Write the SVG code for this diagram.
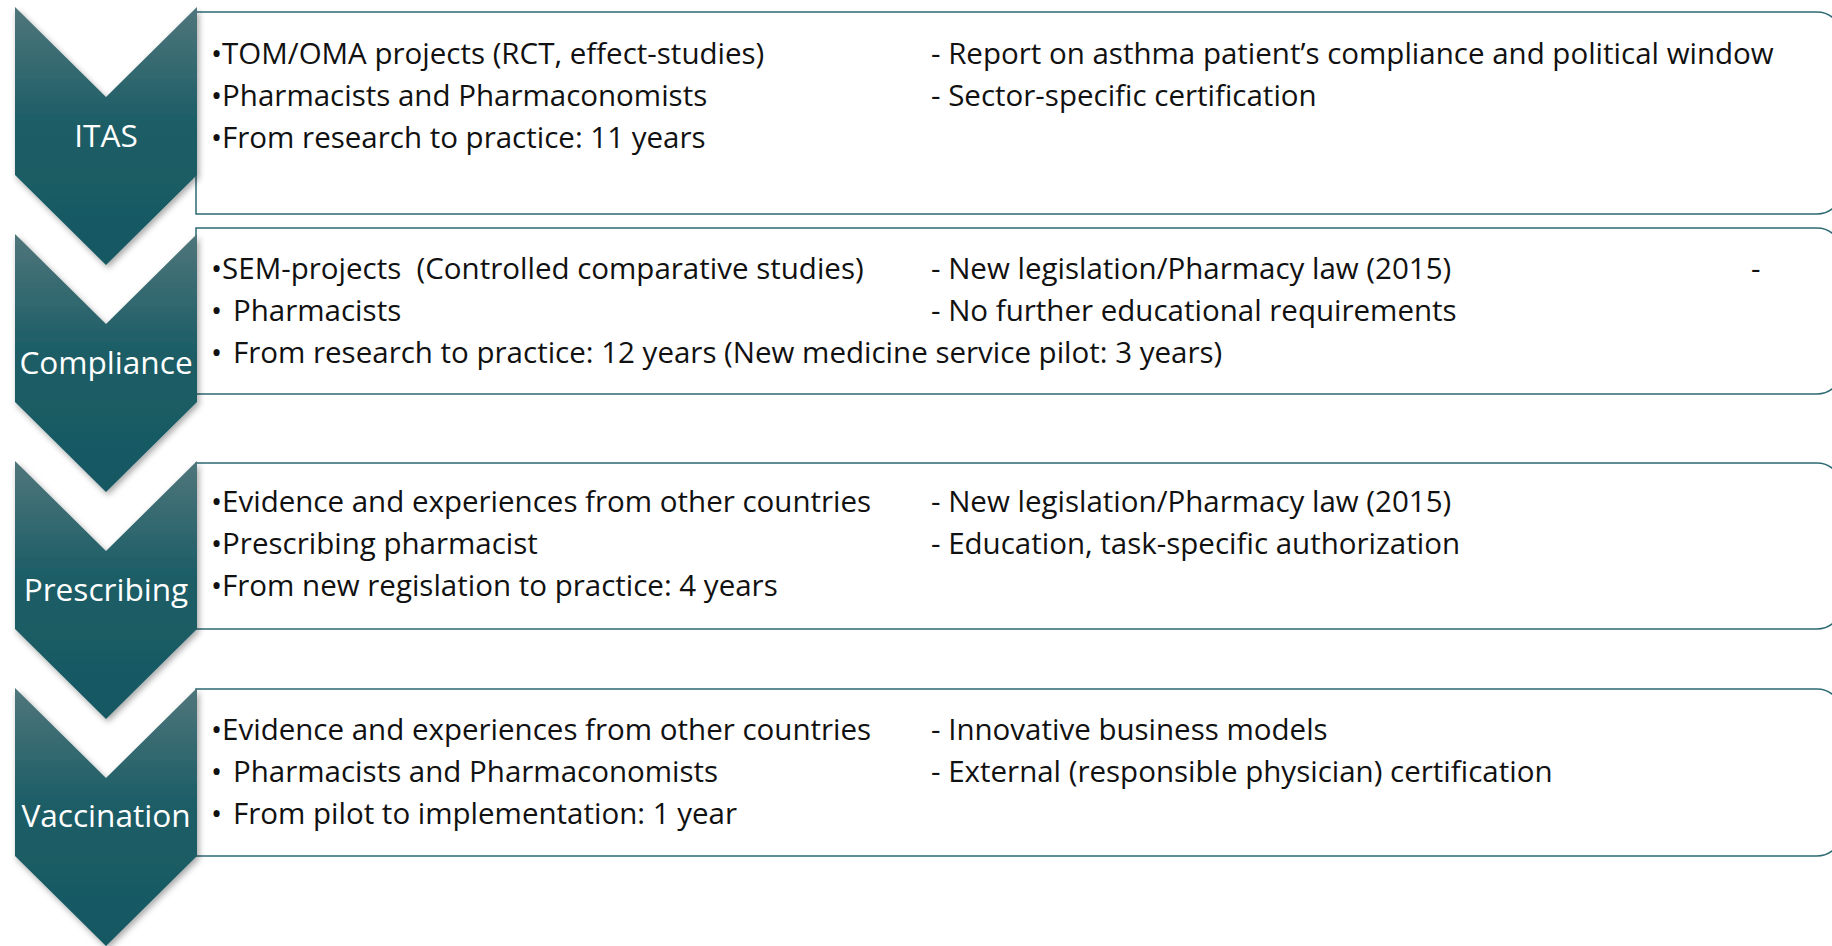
<svg xmlns="http://www.w3.org/2000/svg" width="1832" height="946" viewBox="0 0 1832 946">
<defs>
<linearGradient id="chevGrad" x1="0" y1="0" x2="0" y2="1">
<stop offset="0" stop-color="#4f767b"/>
<stop offset="0.45" stop-color="#1c5d66"/>
<stop offset="1" stop-color="#175862"/>
</linearGradient>
<filter id="shadow" x="-20%" y="-10%" width="140%" height="125%">
<feDropShadow dx="2" dy="3" stdDeviation="3" flood-color="#000" flood-opacity="0.35"/>
</filter>
<style>
.box{fill:#fff;stroke:#2e6a73;stroke-width:1.5}
.chev{fill:url(#chevGrad);filter:url(#shadow)}
.lbl{font-family:"Open Sans","Liberation Sans",sans-serif;font-size:31.6px;fill:#fff;text-anchor:middle}
.t{font-family:"Open Sans","Liberation Sans",sans-serif;font-size:29.5px;fill:#111}
</style>
</defs>
<rect width="1832" height="946" fill="#fff"/>
<g id="connectors"/>
<g id="itas">
<path class="box" d="M196,12 H1817 A25,25 0 0 1 1842,37 V189 A25,25 0 0 1 1817,214 H196 Z"/>
<polygon class="chev" points="15,7 106,97 197,7 197,175 106,265 15,175"/>
<text class="lbl" x="106" y="147">ITAS</text>
<text class="t" x="211" y="64">•TOM/OMA projects (RCT, effect-studies)</text>
<text class="t" x="211" y="106">•Pharmacists and Pharmaconomists</text>
<text class="t" x="211" y="148">•From research to practice: 11 years</text>
<text class="t" x="931" y="64">- Report on asthma patient’s compliance and political window</text>
<text class="t" x="931" y="106">- Sector-specific certification</text>
</g>
<g id="compliance">
<path class="box" d="M196,228 H1817 A25,25 0 0 1 1842,253 V369 A25,25 0 0 1 1817,394 H196 Z"/>
<polygon class="chev" points="15,234 106,324 197,234 197,402 106,492 15,402"/>
<text class="lbl" x="106" y="374">Compliance</text>
<text class="t" x="211" y="279">•SEM-projects &#160;(Controlled comparative studies)</text>
<text class="t" x="211" y="321">• <tspan x="233">Pharmacists</tspan></text>
<text class="t" x="211" y="363">• <tspan x="233">From research to practice: 12 years (New medicine service pilot: 3 years)</tspan></text>
<text class="t" x="931" y="279">- New legislation/Pharmacy law (2015)</text>
<text class="t" x="931" y="321">- No further educational requirements</text>
<text class="t" x="1751" y="279">-</text>
</g>
<g id="prescribing">
<path class="box" d="M196,463 H1817 A25,25 0 0 1 1842,488 V604 A25,25 0 0 1 1817,629 H196 Z"/>
<polygon class="chev" points="15,461 106,551 197,461 197,629 106,719 15,629"/>
<text class="lbl" x="106" y="601">Prescribing</text>
<text class="t" x="211" y="512">•Evidence and experiences from other countries</text>
<text class="t" x="211" y="554">•Prescribing pharmacist</text>
<text class="t" x="211" y="596">•From new regislation to practice: 4 years</text>
<text class="t" x="931" y="512">- New legislation/Pharmacy law (2015)</text>
<text class="t" x="931" y="554">- Education, task-specific authorization</text>
</g>
<g id="vaccination">
<path class="box" d="M196,689 H1817 A25,25 0 0 1 1842,714 V831 A25,25 0 0 1 1817,856 H196 Z"/>
<polygon class="chev" points="15,688 106,778 197,688 197,856 106,946 15,856"/>
<text class="lbl" x="106" y="827">Vaccination</text>
<text class="t" x="211" y="740">•Evidence and experiences from other countries</text>
<text class="t" x="211" y="782">• <tspan x="233">Pharmacists and Pharmaconomists</tspan></text>
<text class="t" x="211" y="824">• <tspan x="233">From pilot to implementation: 1 year</tspan></text>
<text class="t" x="931" y="740">- Innovative business models</text>
<text class="t" x="931" y="782">- External (responsible physician) certification</text>
</g>
</svg>
